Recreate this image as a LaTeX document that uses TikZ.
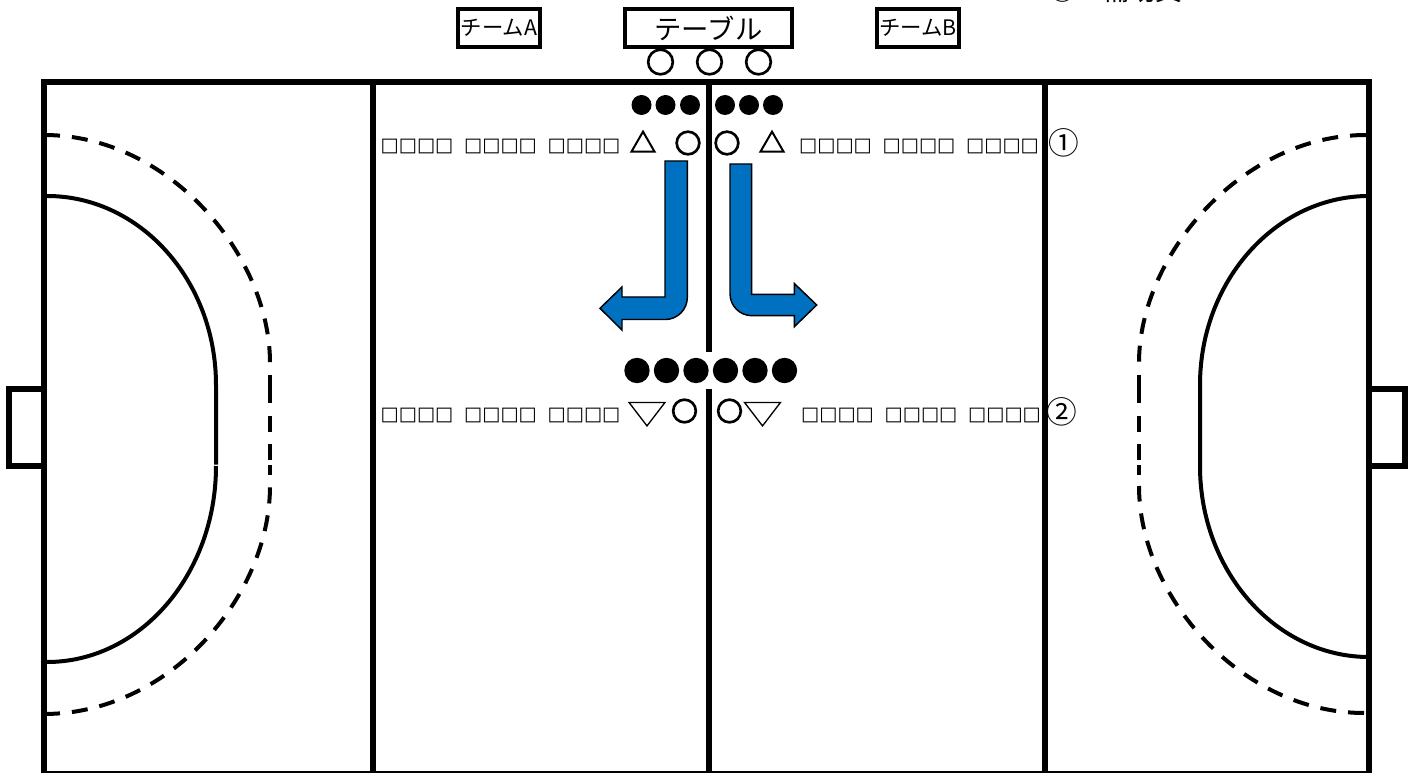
\documentclass[tikz,border=0pt]{standalone}
\usepackage{fontspec}
\setmainfont{Noto Sans CJK JP}
\newfontfamily\symfont{DejaVu Sans}
\definecolor{arrowblue}{RGB}{0,112,192}
\usetikzlibrary{positioning, shapes.geometric}

\begin{document}
\begin{tikzpicture}[
    x=0.75pt, y=-0.75pt,
    courtline/.style={line width=4.5pt},
    arealine/.style={line width=3pt},
    freeline/.style={line width=3pt, dash pattern=on 12pt off 9pt},
    teambox/.style={draw, line width=3pt, inner sep=0pt, minimum height=28pt, font=\fontsize{16}{16}\selectfont},
    official/.style={circle, draw, line width=2pt, minimum size=18.5pt, inner sep=0pt},
    referee/.style={circle, draw, line width=2pt, minimum size=17pt, inner sep=0pt},
    player/.style={circle, fill=black, minimum size=15pt, inner sep=0pt},
    bigplayer/.style={circle, fill=black, minimum size=19pt, inner sep=0pt},
    coach/.style={regular polygon, regular polygon sides=3, draw, line width=1.5pt, minimum size=20pt, inner sep=0pt},
    subcoach/.style={isosceles triangle, isosceles triangle apex angle=75, shape border rotate=-90, draw, line width=1pt, minimum width=27pt, inner sep=0pt},
    seats/.style={font=\symfont\fontsize{14.45}{14.45}\selectfont, inner sep=0pt},
    rownum/.style={font=\fontsize{23}{23}\selectfont, inner sep=0pt},
    turnarrow/.style={draw, line width=1.1pt, fill=arrowblue, line join=miter},
  ]
    \useasboundingbox (0,0) rectangle (1417,773);

    % goal areas
    \draw[arealine] (47,196) .. controls (140.3,196) and (216,280.6) .. (216,385) -- (216,464.5);
    \draw[arealine] (216,466) .. controls (216,574.3) and (140.3,662) .. (47,662);
    \draw[arealine] (1369,196) .. controls (1276,196) and (1200,280.6) .. (1200,385) -- (1200,466) .. controls (1200,571.5) and (1276,657) .. (1369,657);

    % free throw lines
    \draw[freeline] (44,135) .. controls (168.8,135) and (270,255) .. (270,363);
    \draw[arealine] (270,375) -- (270,403) (270,416) -- (270,432) (270,444) -- (270,460) (270,465) -- (270,475);
    \draw[freeline] (44,714) .. controls (168.8,714) and (270,597) .. (270,486);
    \draw[freeline] (1366,135) .. controls (1242,135) and (1139,255) .. (1139,363);
    \draw[arealine] (1139,375) -- (1139,403) (1139,416) -- (1139,432) (1139,444) -- (1139,460) (1139,465) -- (1139,475);
    \draw[freeline] (1364,713) .. controls (1242,713) and (1139,597) .. (1139,486);

    % court
    \draw[courtline] (44,82) rectangle (1369,774);
    \draw[courtline] (373,82) -- (373,774);
    \draw[courtline] (1044.5,82) -- (1044.5,774);
    \draw[courtline] (709,82) -- (709,352);
    \draw[courtline] (709,389) -- (709,774);
    \draw[courtline] (44,389) -- (9,389) -- (9,466) -- (44,466);
    \draw[courtline] (1369,389) -- (1405,389) -- (1405,466) -- (1369,466);

    % table
    \node[teambox, minimum width=61.5pt] (teamA) at (499,28) {チームA};
    \node[teambox, minimum width=125pt, font=\fontsize{20.5}{20.5}\selectfont] (table) at (708.5,28) {テーブル};
    \node[teambox, minimum width=61.5pt] (teamB) at (918,28) {チームB};
    \node[official] (off1) at (660.5,62) {};
    \node[official] (off2) at (709.5,62) {};
    \node[official] (off3) at (758.5,62) {};
    \node[anchor=base west, inner sep=0pt, font=\fontsize{20}{20}\selectfont] (helper) at (1049,1) {○　補助員};

    % first row
    \node[player] (p1) at (641.5,105) {};
    \node[player] (p2) at (665.5,105) {};
    \node[player] (p3) at (690,105) {};
    \node[player] (p4) at (725,105) {};
    \node[player] (p5) at (749,105) {};
    \node[player] (p6) at (773,105) {};
    \node[seats] (seatsA1) at (500.5,146.5) {□□□□\hspace{8pt}□□□□\hspace{8pt}□□□□};
    \node[coach] (coachA1) at (643,145) {};
    \node[referee] (refA1) at (688,143) {};
    \node[referee] (refB1) at (727,143) {};
    \node[coach] (coachB1) at (772,145) {};
    \node[seats] (seatsB1) at (919,146.5) {□□□□\hspace{8pt}□□□□\hspace{8pt}□□□□};
    \node[rownum] (num1) at (1063.5,142.5) {①};

    % turn arrows
    \draw[turnarrow] (665,161) -- (687.3,161) -- (687.3,297.5) .. controls (687.3,309.6) and (677.4,319.5) .. (665.3,319.5) -- (622,319.5) -- (622,330) -- (600,308.3) -- (622,287) -- (622,297) -- (665,297) -- cycle;
    \draw[turnarrow] (730,164) -- (751.7,164) -- (751.7,294.3) -- (794.3,294.3) -- (794.3,283.5) -- (816.7,305) -- (794.3,326.7) -- (794.3,315.7) -- (752,315.7) .. controls (739.8,315.7) and (730,305.9) .. (730,293.7) -- cycle;

    % second row
    \node[bigplayer] (q1) at (637,370.5) {};
    \node[bigplayer] (q2) at (666.5,370.5) {};
    \node[bigplayer] (q3) at (696,370.5) {};
    \node[bigplayer] (q4) at (725.5,370.5) {};
    \node[bigplayer] (q5) at (755,370.5) {};
    \node[bigplayer] (q6) at (784.5,370.5) {};
    \node[seats] (seatsA2) at (500.5,415) {□□□□\hspace{8pt}□□□□\hspace{8pt}□□□□};
    \node[subcoach, anchor=apex] (coachA2) at (647,427) {};
    \node[referee] (refA2) at (684.5,411) {};
    \node[referee] (refB2) at (729.5,411) {};
    \node[subcoach, anchor=apex] (coachB2) at (762.5,427) {};
    \node[seats] (seatsB2) at (921,415) {□□□□\hspace{8pt}□□□□\hspace{8pt}□□□□};
    \node[rownum] (num2) at (1062,412) {②};
\end{tikzpicture}
\end{document}
